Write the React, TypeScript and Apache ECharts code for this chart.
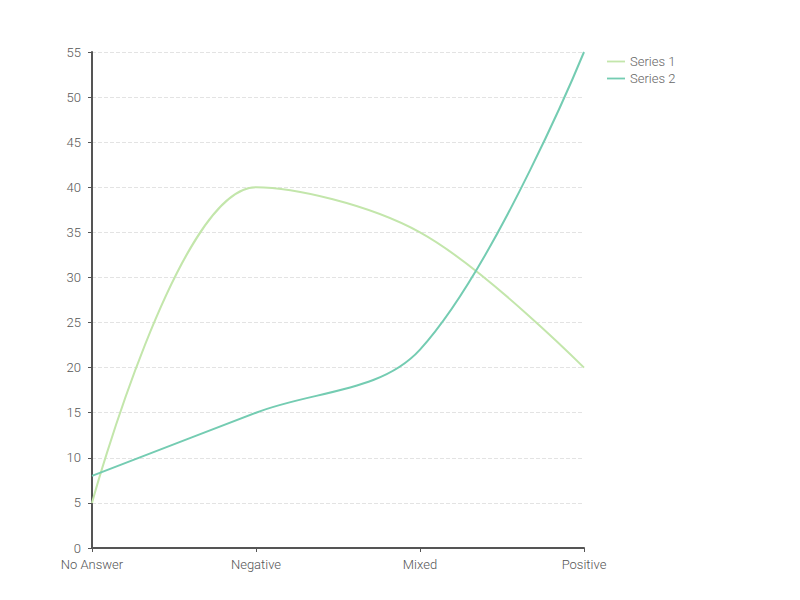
import React, { useEffect, useRef } from "react";
import * as echarts from "echarts";

const categories = ["No Answer", "Negative", "Mixed", "Positive"];
const series1 = [5, 40, 35, 20];
const series2 = [8, 15, 22, 55];
const seriesNames = ["Series 1", "Series 2"];

export default function App() {
  const ref = useRef<HTMLDivElement>(null);
  useEffect(() => {
    const chart = echarts.init(ref.current!, null, { renderer: "svg" });
    chart.setOption({
      animation: false,
      textStyle: { fontFamily: "Roboto", fontWeight: 300 },
      color: ["#c3e6ab", "#74ccb2"],
      legend: {
        orient: "vertical",
        left: 602,
        top: 50,
        icon: "path://M0,0 L20,0 L20,2 L0,2 Z",
        itemWidth: 18,
        itemHeight: 2,
        itemGap: 4,
        textStyle: { color: "#666", fontSize: 13, fontFamily: "Roboto", fontWeight: 300 },
        data: seriesNames,
      },
      grid: { left: 92, right: 216, top: 52, bottom: 52, containLabel: false },
      xAxis: {
        type: "category",
        data: categories,
        boundaryGap: false,
        axisLine: { lineStyle: { color: "#555", width: 2 } },
        axisTick: { alignWithLabel: true, length: 4, lineStyle: { color: "#555" } },
        axisLabel: { color: "#555", fontSize: 13, margin: 10, fontFamily: "Roboto", fontWeight: 300 },
        splitLine: { show: false },
      },
      yAxis: {
        type: "value",
        min: 0,
        max: 55,
        interval: 5,
        axisLine: { show: true, lineStyle: { color: "#555", width: 2 } },
        axisTick: { show: true, length: 4, lineStyle: { color: "#555" } },
        axisLabel: { color: "#555", fontSize: 13, margin: 11, fontFamily: "Roboto", fontWeight: 300 },
        splitLine: { show: true, lineStyle: { color: "#e3e3e3", type: "dashed", width: 1 } },
      },
      series: [
        {
          name: seriesNames[0],
          type: "line",
          data: series1,
          smooth: 0.35,
          showSymbol: false,
          symbol: "none",
          lineStyle: { width: 2 },
        },
        {
          name: seriesNames[1],
          type: "line",
          data: series2,
          smooth: 0.35,
          showSymbol: false,
          symbol: "none",
          lineStyle: { width: 2 },
        },
      ],
    });
    return () => chart.dispose();
  }, []);
  return <div ref={ref} style={{ width: 800, height: 600, position: "absolute", left: 0, top: 0 }} />;
}
